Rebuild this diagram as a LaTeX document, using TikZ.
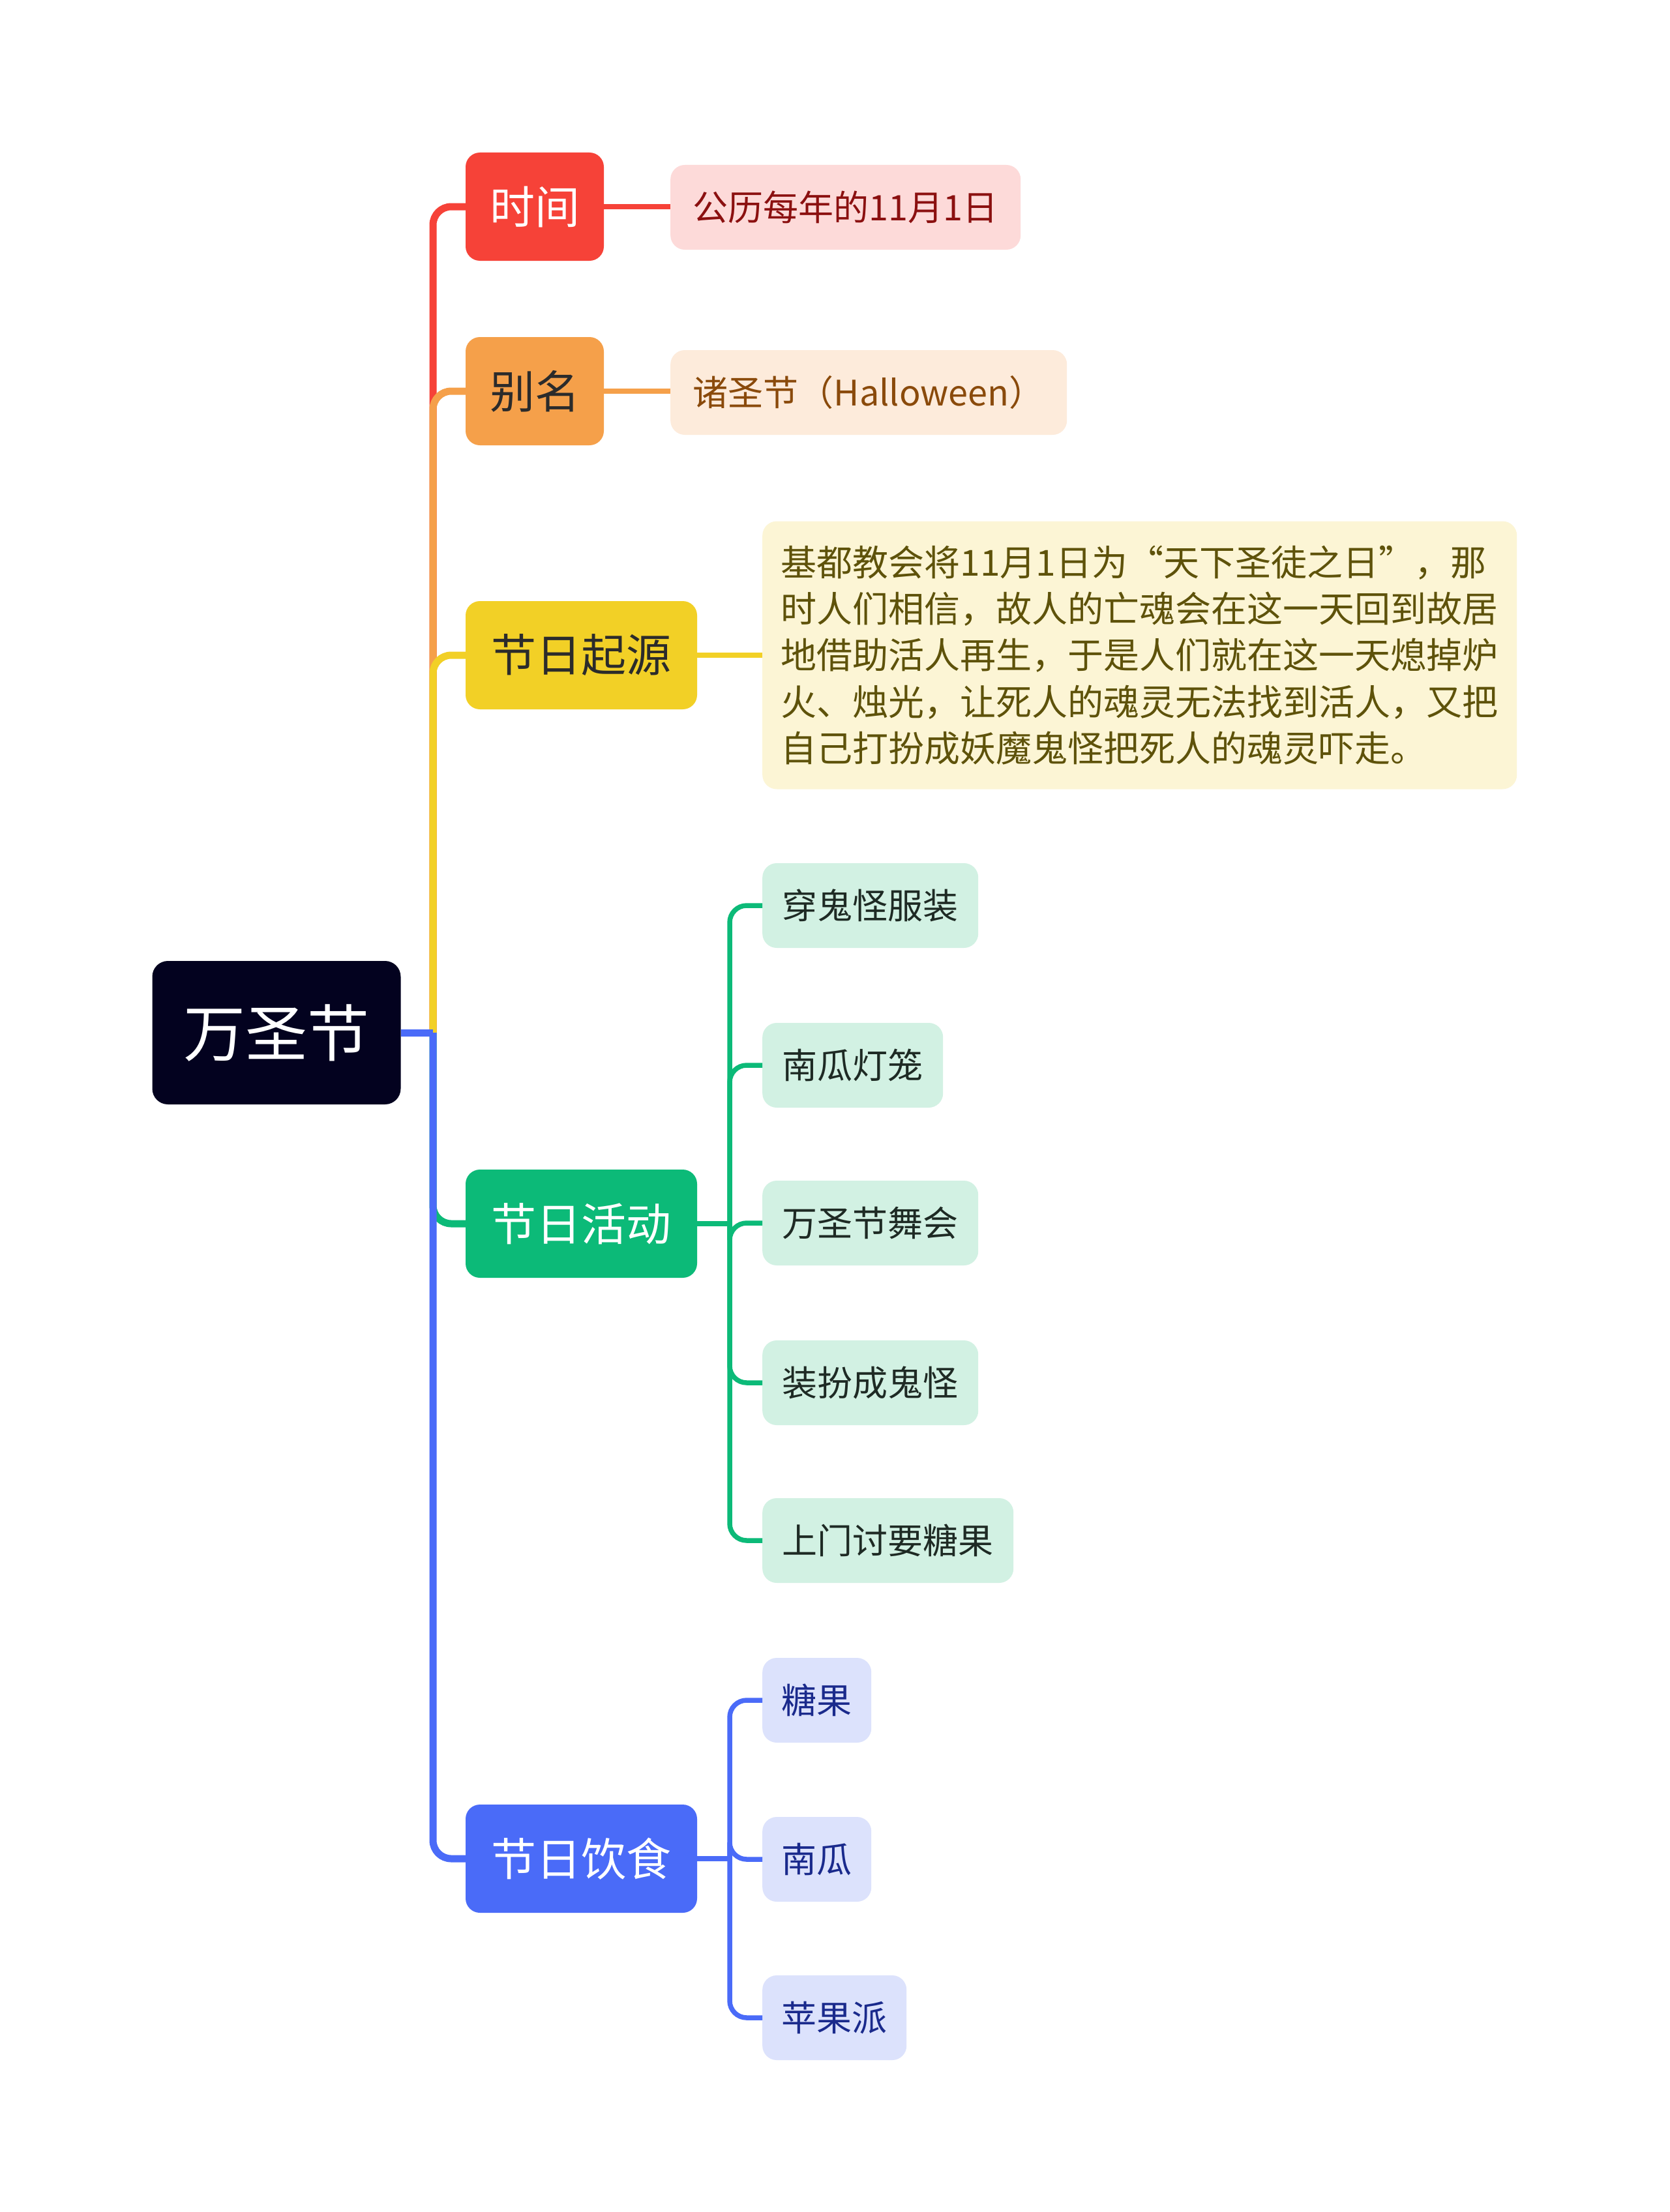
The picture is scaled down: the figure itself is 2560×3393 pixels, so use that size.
\documentclass[tikz,border=0pt]{standalone}
\usepackage{fontspec}
\setmainfont{Noto Sans CJK SC}
\definecolor{cRoot}{HTML}{03021F}
\definecolor{cRed}{HTML}{F64238}
\definecolor{cOrange}{HTML}{F5A04A}
\definecolor{cYellow}{HTML}{F2D026}
\definecolor{cGreen}{HTML}{0CBA78}
\definecolor{cBlue}{HTML}{4A6BF8}
\definecolor{fRed}{HTML}{FDDAD9}
\definecolor{fOrange}{HTML}{FDEBDB}
\definecolor{fYellow}{HTML}{FCF5D5}
\definecolor{fGreen}{HTML}{D2F1E3}
\definecolor{fBlue}{HTML}{DCE2FC}
\definecolor{tRed}{HTML}{8B1010}
\definecolor{tOrange}{HTML}{8A4A0B}
\definecolor{tYellow}{HTML}{5E520A}
\definecolor{tGreen}{HTML}{1E2A24}
\definecolor{tBlue}{HTML}{1A2A8C}
\definecolor{tDark}{HTML}{2B2B2B}
\begin{document}
\begin{tikzpicture}[x=1pt,y=-1pt,
  box/.style={rounded corners=22pt, inner sep=0pt, align=center},
  mainbox/.style={box, minimum height=166pt, font=\fontsize{69}{80}\selectfont},
  leafbox/.style={box, anchor=west, minimum height=130pt, font=\fontsize{54}{64}\selectfont},
  conn/.style={line width=11pt, rounded corners=28pt},
  subconn/.style={line width=7.5pt, rounded corners=26pt}]
\useasboundingbox[fill=white] (0,0) rectangle (2560,3393);

% root
\node[box, rounded corners=24pt, fill=cRoot, text=white, minimum width=381pt, minimum height=220pt,
  font=\fontsize{95}{110}\selectfont] (root) at (424,1584) {万圣节};
\coordinate (trunk) at (664,1584);

% main topics
\node[mainbox, fill=cRed, text=white, minimum width=212pt] (t1) at (820,317) {时间};
\node[mainbox, fill=cOrange, text=tDark, minimum width=212pt] (t2) at (820,600) {别名};
\node[mainbox, fill=cYellow, text=tDark, minimum width=355pt] (t3) at (891.5,1005) {节日起源};
\node[mainbox, fill=cGreen, text=white, minimum width=355pt] (t4) at (891.5,1877) {节日活动};
\node[mainbox, fill=cBlue, text=white, minimum width=355pt] (t5) at (891.5,2851) {节日饮食};

% leaves
\node[leafbox, fill=fRed, text=tRed, minimum width=537pt] (l1) at (1028,318) {公历每年的11月1日};
\node[leafbox, fill=fOrange, text=tOrange, minimum width=608pt] (l2) at (1028,602) {诸圣节（Halloween）};
\node[leafbox, fill=fYellow, text=tYellow, minimum width=1157pt, minimum height=411pt, align=left,
  font=\fontsize{55}{71.4}\selectfont] (l3) at (1169,1005)
  {基都教会将11月1日为“天下圣徒之日”，那\\时人们相信，故人的亡魂会在这一天回到故居\\地借助活人再生，于是人们就在这一天熄掉炉\\火、烛光，让死人的魂灵无法找到活人，又把\\自己打扮成妖魔鬼怪把死人的魂灵吓走。};

\node[leafbox, fill=fGreen, text=tGreen, minimum width=331pt] (g1) at (1169,1389) {穿鬼怪服装};
\node[leafbox, fill=fGreen, text=tGreen, minimum width=277pt] (g2) at (1169,1634) {南瓜灯笼};
\node[leafbox, fill=fGreen, text=tGreen, minimum width=331pt] (g3) at (1169,1876) {万圣节舞会};
\node[leafbox, fill=fGreen, text=tGreen, minimum width=331pt] (g4) at (1169,2121) {装扮成鬼怪};
\node[leafbox, fill=fGreen, text=tGreen, minimum width=385pt] (g5) at (1169,2363) {上门讨要糖果};

\node[leafbox, fill=fBlue, text=tBlue, minimum width=167pt] (b1) at (1169,2608) {糖果};
\node[leafbox, fill=fBlue, text=tBlue, minimum width=167pt] (b2) at (1169,2852) {南瓜};
\node[leafbox, fill=fBlue, text=tBlue, minimum width=221pt] (b3) at (1169,3095) {苹果派};

\coordinate (gbus) at (1119,1877);
\coordinate (bbus) at (1119,2851);

% main connectors
\draw[conn, cRed] (trunk) |- (t1.west);
\draw[conn, cOrange] (trunk) |- (t2.west);
\draw[conn, cYellow] (trunk) |- (t3.west);
\draw[conn, cGreen] (trunk) |- (t4.west);
\draw[conn, cBlue] (trunk) |- (t5.west);
\draw[conn, cBlue] (root.east) -- (trunk);

% leaf connectors
\draw[subconn, cRed] (t1.east) -- (l1.west |- t1.east);
\draw[subconn, cOrange] (t2.east) -- (l2.west |- t2.east);
\draw[subconn, cYellow] (t3.east) -- (l3.west |- t3.east);

\draw[subconn, cGreen] (t4.east) -- (gbus);
\foreach \n in {g1,g2,g3,g4,g5} \draw[subconn, cGreen] (gbus) |- (\n.west);

\draw[subconn, cBlue] (t5.east) -- (bbus);
\foreach \n in {b1,b2,b3} \draw[subconn, cBlue] (bbus) |- (\n.west);
\end{tikzpicture}
\end{document}
